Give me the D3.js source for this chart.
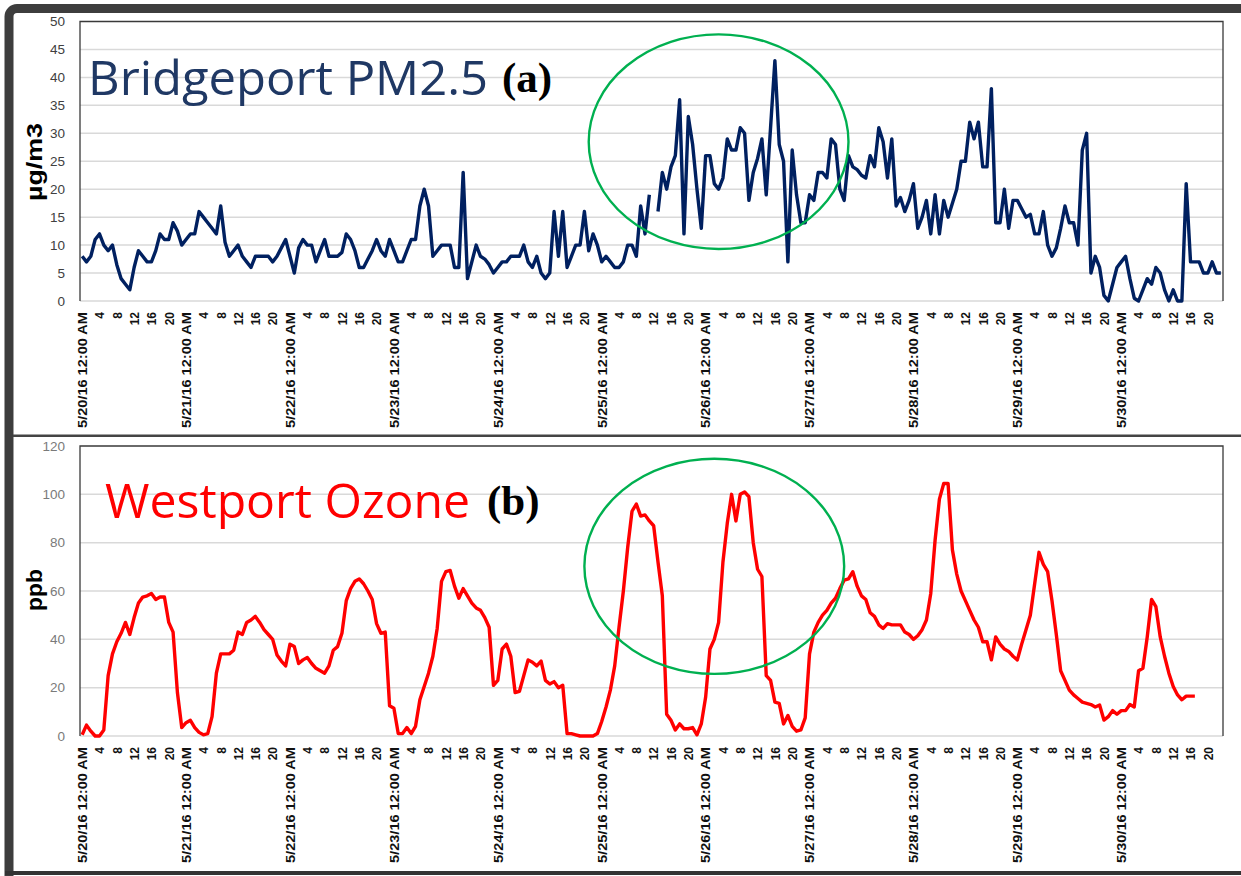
<!DOCTYPE html>
<html>
<head>
<meta charset="utf-8">
<script src="https://cdn.jsdelivr.net/npm/d3@7"></script>
<style>
body { margin: 0; background: #fff; }
svg { display: block; }
</style>
</head>
<body>
<svg id="chart" width="1241" height="876"></svg>
<script>
// hourly readings starting 5/20/16 12:00 AM (null = missing hour)
var pm25 = [
  8, 7, 8, 11, 12, 10, 9, 10, 6.5, 4,
  3, 2, 6, 9, 8, 7, 7, 9, 12, 11,
  11, 14, 12.5, 10, 11, 12, 12, 16, 15, 14,
  13, 12, 17, 10.5, 8, 9, 10, 8, 7, 6,
  8, 8, 8, 8, 7, 8, 9.5, 11, 8, 5,
  9.5, 11, 10, 10, 7, 9, 11, 8, 8, 8,
  8.7, 12, 11, 9, 6, 6, 7.5, 9, 11, 9,
  8, 11, 9, 7, 7, 9, 11, 11, 17, 20,
  17, 8, 9, 10, 10, 10, 6, 6, 23, 4,
  7, 10, 8, 7.5, 6.5, 5, 6, 7, 7, 8,
  8, 8, 10, 7, 6, 8, 5, 4, 5, 16,
  8, 16, 6, 8, 10, 10, 16, 9, 12, 10,
  7, 8, 7, 6, 6, 7, 10, 10, 8, 17,
  12, 19, null, 16, 23, 20, 24, 26, 36, 12,
  33, 28, 20, 13, 26, 26, 21, 20, 22, 29,
  27, 27, 31, 30, 18, 23, 25.5, 29, 19, 31,
  43, 28, 25, 7, 27, 19, 14, 14, 19, 18,
  23, 23, 22, 29, 28, 20, 18, 26, 24, 23.5,
  22.5, 22, 26, 24, 31, 28.5, 22, 29, 17, 18.5,
  16, 18, 21, 13, 15, 18, 12, 19, 12, 18,
  15, 17.5, 20, 25, 25, 32, 29, 32, 24, 24,
  38, 14, 14, 20, 13, 18, 18, 16.5, 15, 15.5,
  12, 12, 16, 10, 8, 9.5, 13, 17, 14, 14,
  10, 27, 30, 5, 8, 6, 1, 0, 3, 6,
  7, 8, 4, 0.5, 0, 2, 4, 3, 6, 5,
  2, 0, 2, 0, 0, 21, 7, 7, 7, 5,
  5, 7, 5, 5
];

var ozone = [
  0.5, 4.5, 2, 0, 0, 2.5, 25, 34, 39, 42.5,
  47, 42, 49, 55, 57.5, 58, 59, 56.5, 57.5, 57.5,
  47, 43, 18, 3.5, 5.5, 6.5, 3.5, 1.5, 0.5, 1,
  8, 26, 34, 34, 34, 35.5, 43, 42, 47, 48,
  49.5, 47, 44, 42, 40, 33.5, 31, 29, 38, 37,
  30, 31.5, 32.5, 30, 28, 27, 26, 29, 35.5, 37,
  42.5, 56, 61, 64, 65, 63, 60, 56.5, 46.5, 42.5,
  43, 12.5, 11.5, 1, 1, 3.5, 1, 4, 15, 20.5,
  26, 33, 44.5, 64, 68, 68.5, 62, 57, 61, 58,
  55, 53, 52, 49, 45, 21, 23, 36, 38, 33,
  18, 18.5, 25, 31.5, 30.5, 29, 31, 23, 21.5, 22.5,
  20, 21, 1, 1, 0.5, 0, 0, 0, 0, 1,
  6, 12, 19, 29, 45, 60, 78, 93, 96, 91,
  91.5, 89, 87, 72, 58, 9, 6.5, 2.5, 5, 3,
  3, 3.5, 0.5, 5, 16, 36, 40, 47, 72, 88,
  100, 89, 100, 101, 99, 80, 69, 66, 25, 23,
  14, 13.5, 5, 8.5, 4, 2, 2.5, 7.5, 34, 43,
  47, 50, 52, 55, 57, 61, 64.5, 65, 68, 62,
  58, 56.5, 51, 49.5, 46, 44.5, 46.5, 46, 46, 46,
  43, 42, 40, 41.5, 44, 48, 59, 81, 98, 104.5,
  104.5, 77, 67, 60, 56, 52, 48, 45, 39, 39,
  31.5, 41, 38, 36, 35, 33, 31.5, 38, 44, 50,
  63, 76, 71, 68, 56, 42, 27, 23, 19, 17,
  15.5, 14, 13.5, 13, 12, 12.8, 6.6, 8, 10.5, 9,
  10.5, 10.5, 13, 12, 27, 28, 41, 56.5, 53.5, 41,
  33, 26, 20.5, 17, 15, 16.5, 16.5, 16.5
];

var dayLabels = ["5/20/16 12:00 AM", "5/21/16 12:00 AM", "5/22/16 12:00 AM", "5/23/16 12:00 AM",
  "5/24/16 12:00 AM", "5/25/16 12:00 AM", "5/26/16 12:00 AM", "5/27/16 12:00 AM",
  "5/28/16 12:00 AM", "5/29/16 12:00 AM", "5/30/16 12:00 AM"];
var pmTicks = [0, 5, 10, 15, 20, 25, 30, 35, 40, 45, 50];
var ozoneTicks = [0, 20, 40, 60, 80, 100, 120];

var hours = d3.range(dayLabels.length * 24);

var svg = d3.select("#chart");
svg.append("rect").attr("width", 1241).attr("height", 876).attr("fill", "#fff");

// window-like frame round the figure
svg.append("rect")
    .attr("x", 9).attr("y", 8.5)
    .attr("width", 1300).attr("height", 1000)
    .attr("rx", 8)
    .attr("fill", "none")
    .attr("stroke", "#3d3d3d")
    .attr("stroke-width", 9);
svg.append("rect").attr("x", 5).attr("y", 871).attr("width", 1236).attr("height", 4).attr("fill", "#333");
svg.append("rect").attr("x", 13).attr("y", 434.5).attr("width", 1228).attr("height", 2.5).attr("fill", "#444");

var x = d3.scalePoint()
    .domain(hours)
    .range([80, 1223])
    .padding(0.5);

function hourLabel(h) {
  return h % 24 === 0 ? dayLabels[h / 24] : String(h % 24);
}

function drawPanel(p) {
  var y = d3.scaleLinear().domain([0, p.max]).range([p.bottom, p.top]);
  var g = svg.append("g");

  // gridlines
  g.append("g")
    .selectAll("line")
    .data(p.ticks.slice(0, -1))
    .enter().append("line")
      .attr("x1", 80).attr("x2", 1223)
      .attr("y1", function(d) { return y(d); })
      .attr("y2", function(d) { return y(d); })
      .attr("stroke", "#d9d9d9")
      .attr("stroke-width", 1.5);

  // y axis
  var ya = g.append("g")
      .attr("transform", "translate(80,0)")
      .call(d3.axisLeft(y).tickValues(p.ticks).tickSize(0).tickPadding(15));
  ya.select(".domain").remove();
  ya.selectAll("text")
      .attr("font-family", "Liberation Sans, Arial, sans-serif")
      .attr("font-size", 13.5)
      .attr("fill", p.tickColor);

  // x axis, hourly categories labelled every 4 hours
  var xa = g.append("g")
      .attr("transform", "translate(0," + p.bottom + ")")
      .call(d3.axisBottom(x)
        .tickValues(hours.filter(function(h) { return h % 4 === 0; }))
        .tickSize(0)
        .tickFormat(hourLabel));
  xa.select(".domain").remove();
  xa.selectAll("text")
      .attr("transform", "rotate(-90)")
      .attr("text-anchor", "end")
      .attr("x", -11)
      .attr("y", 0)
      .attr("dy", "0.36em")
      .attr("font-family", "Liberation Sans, Arial, sans-serif")
      .attr("font-weight", "bold")
      .attr("font-size", 12)
      .attr("fill", "#111")
      .each(function(h) {
        if (h % 24 === 0) d3.select(this).attr("textLength", 116).attr("lengthAdjust", "spacingAndGlyphs");
      });

  // series
  var line = d3.line()
      .defined(function(d) { return d != null; })
      .x(function(d, i) { return x(i); })
      .y(function(d) { return y(d); });

  g.append("path")
      .datum(p.values)
      .attr("fill", "none")
      .attr("stroke", p.color)
      .attr("stroke-width", 3.4)
      .attr("stroke-linejoin", "round")
      .attr("d", line);

  // plot area border (top, left, right)
  g.append("path")
      .attr("d", "M80," + p.bottom + "V" + p.top + "H1223V" + p.bottom)
      .attr("fill", "none")
      .attr("stroke", "#3a3a3a")
      .attr("stroke-width", 1.3);

  // unit label
  g.append("text")
      .attr("transform", "translate(" + 42 + "," + p.unitY + ") rotate(-90)")
      .attr("text-anchor", "middle")
      .attr("font-family", "Liberation Sans, Arial, sans-serif")
      .attr("font-weight", "bold")
      .attr("font-size", 22)
      .attr("textLength", p.unitLen)
      .attr("lengthAdjust", "spacingAndGlyphs")
      .attr("fill", "#000")
      .text(p.unit);

  // titles
  g.append("text")
      .attr("x", p.titleX).attr("y", p.titleY)
      .attr("font-family", "Open Sans, sans-serif")
      .attr("font-size", 48)
      .attr("textLength", p.titleLen)
      .attr("lengthAdjust", "spacingAndGlyphs")
      .attr("fill", p.titleColor)
      .text(p.title);
  g.append("text")
      .attr("x", p.tagX).attr("y", p.titleY - 3)
      .attr("font-family", "Liberation Serif, Times New Roman, serif")
      .attr("font-weight", "bold")
      .attr("font-size", 43)
      .attr("fill", "#000")
      .text(p.tag);

  // highlighted episode
  g.append("ellipse")
      .attr("cx", x(p.ring.hour))
      .attr("cy", y(p.ring.value))
      .attr("rx", x(p.ring.hour + p.ring.hourSpan) - x(p.ring.hour))
      .attr("ry", y(p.ring.value - p.ring.valueSpan) - y(p.ring.value))
      .attr("fill", "none")
      .attr("stroke", "#00b050")
      .attr("stroke-width", 2.4);
}

drawPanel({
  values: pm25, ticks: pmTicks, max: 50, top: 21.5, bottom: 301,
  color: "#002060", tickColor: "#404040",
  unit: "\u00b5g/m3", unitY: 162, unitLen: 78,
  title: "Bridgeport PM2.5", titleColor: "#1f3864", titleX: 88, titleY: 95, titleLen: 400,
  tag: "(a)", tagX: 502,
  ring: {hour: 147, value: 28.5, hourSpan: 30, valueSpan: 19.2}
});

drawPanel({
  values: ozone, ticks: ozoneTicks, max: 120, top: 446, bottom: 736,
  color: "#ff0000", tickColor: "#7a7a7a",
  unit: "ppb", unitY: 590, unitLen: 42,
  title: "Westport Ozone", titleColor: "#ff0000", titleX: 105, titleY: 518, titleLen: 365,
  tag: "(b)", tagX: 487,
  ring: {hour: 146, value: 70.2, hourSpan: 30, valueSpan: 44.5}
});
</script>
</body>
</html>
